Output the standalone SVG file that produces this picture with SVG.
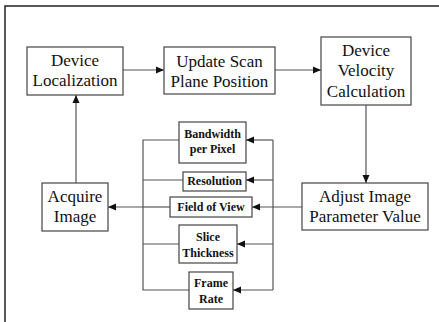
<svg xmlns="http://www.w3.org/2000/svg" width="439" height="322" viewBox="0 0 439 322">
<defs>
<marker id="ah" viewBox="0 0 8 8" refX="8" refY="4" markerWidth="8" markerHeight="8" markerUnits="userSpaceOnUse" orient="auto">
<path d="M0,0.5 L8,4 L0,7.5 z" fill="#111"/>
</marker>
<style>
.box{fill:#fff;stroke:#444;stroke-width:1.2}
.big{font-size:17px;fill:#111;text-anchor:middle}
.sm{font-size:12px;font-weight:bold;fill:#111;text-anchor:middle}
.ln{fill:none;stroke:#555;stroke-width:1.2}
.ar{fill:none;stroke:#555;stroke-width:1.2;marker-end:url(#ah)}
</style>
</defs>
<rect width="439" height="322" fill="#fff"/>
<path d="M5,322 V6 H439" fill="none" stroke="#222" stroke-width="1.5"/>

<g id="connectors">
<path class="ar" d="M123,70 H164"/>
<path class="ar" d="M275,70 H321"/>
<path class="ar" d="M366,105 V183"/>
<path class="ar" d="M302,207 H252"/>
<path class="ar" d="M143,207 H108"/>
<path class="ar" d="M76,183 V95"/>
<path class="ln" d="M179,140 H143 V290 H189"/>
<path class="ln" d="M143,180 H183"/>
<path class="ln" d="M143,207 H170"/>
<path class="ln" d="M143,244 H179"/>
<path class="ln" d="M273,140 V290"/>
<path class="ar" d="M273,140 H246"/>
<path class="ar" d="M273,180 H246"/>
<path class="ar" d="M273,244 H237"/>
<path class="ar" d="M273,290 H233"/>
</g>

<g font-family="Liberation Serif, Times New Roman, DejaVu Serif, serif">
<g id="device-localization">
<rect class="box" x="27" y="47" width="96" height="48"/>
<text class="big" x="75" y="66">Device</text>
<text class="big" x="75" y="86">Localization</text>
</g>
<g id="update-scan-plane">
<rect class="box" x="164" y="47" width="111" height="47"/>
<text class="big" x="219.5" y="67">Update Scan</text>
<text class="big" x="219.5" y="87">Plane Position</text>
</g>
<g id="device-velocity">
<rect class="box" x="321" y="37" width="90" height="68"/>
<text class="big" x="366" y="56">Device</text>
<text class="big" x="366" y="76">Velocity</text>
<text class="big" x="366" y="97">Calculation</text>
</g>
<g id="adjust-image">
<rect class="box" x="302" y="183" width="126" height="47"/>
<text class="big" x="365" y="202">Adjust Image</text>
<text class="big" x="365" y="222">Parameter Value</text>
</g>
<g id="acquire-image">
<rect class="box" x="42" y="183" width="66" height="48"/>
<text class="big" x="75" y="202">Acquire</text>
<text class="big" x="75" y="222">Image</text>
</g>
<g id="bandwidth">
<rect class="box" x="179" y="122" width="67" height="41"/>
<text class="sm" x="212.5" y="138">Bandwidth</text>
<text class="sm" x="212.5" y="153">per Pixel</text>
</g>
<g id="resolution">
<rect class="box" x="183" y="172" width="63" height="19"/>
<text class="sm" x="214.5" y="185">Resolution</text>
</g>
<g id="field-of-view">
<rect class="box" x="170" y="197" width="82" height="20"/>
<text class="sm" x="211" y="211">Field of View</text>
</g>
<g id="slice-thickness">
<rect class="box" x="179" y="225" width="58" height="38"/>
<text class="sm" x="208" y="241">Slice</text>
<text class="sm" x="208" y="257">Thickness</text>
</g>
<g id="frame-rate">
<rect class="box" x="189" y="272" width="44" height="37"/>
<text class="sm" x="211" y="287">Frame</text>
<text class="sm" x="211" y="303">Rate</text>
</g>
</g>
</svg>
